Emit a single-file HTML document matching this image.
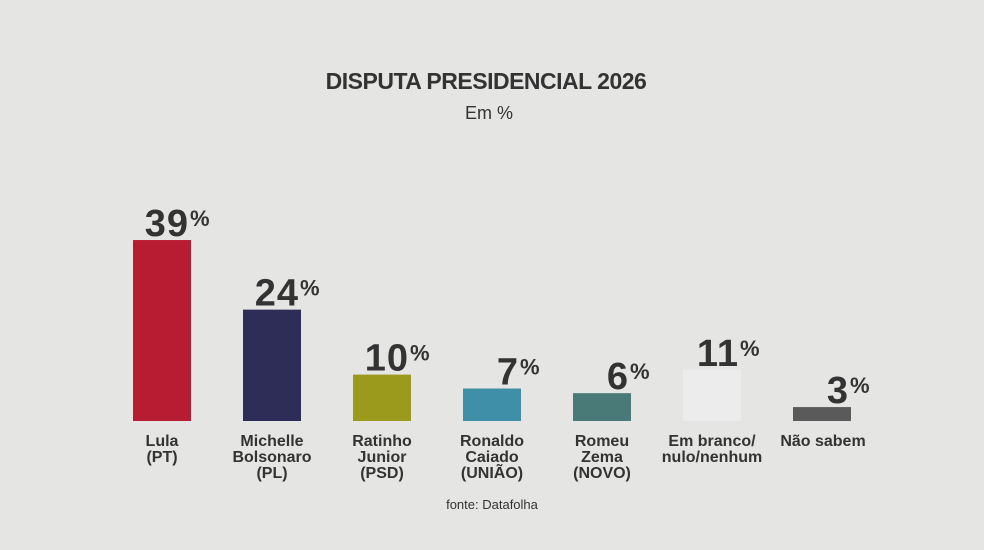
<!DOCTYPE html>
<html><head><meta charset="utf-8"><style>
body{margin:0;background:#e5e5e4;}
svg{display:block;font-family:"Liberation Sans",Arial,sans-serif;}
</style></head><body>
<svg width="984" height="550" viewBox="0 0 984 550">
<rect width="984" height="550" fill="#e5e5e4"/>
<text x="486" y="89" text-anchor="middle" font-size="23" font-weight="bold" fill="#333" letter-spacing="-0.5">DISPUTA PRESIDENCIAL 2026</text>
<text x="489" y="119" text-anchor="middle" font-size="18" fill="#333">Em %</text>
<text x="492" y="509" text-anchor="middle" font-size="13" fill="#333">fonte: Datafolha</text>
<g id="bars"></g>
</svg>
<script>
const categories=[["Lula","(PT)"],["Michelle","Bolsonaro","(PL)"],["Ratinho","Junior","(PSD)"],["Ronaldo","Caiado","(UNIÃO)"],["Romeu","Zema","(NOVO)"],["Em branco/","nulo/nenhum"],["Não sabem"]];
const values=[39,24,10,7,6,11,3];
const colors=["#b81c32","#2d2d57","#9c9a1c","#3f8fa8","#4a7a78","#ececec","#5a5a5a"];
const NS="http://www.w3.org/2000/svg";
const g=document.getElementById("bars");
const base=421, scale=4.64, x0=162, step=110, bw=58;
const xPos=i=>x0+i*step;
const yPos=v=>base-v*scale;
values.forEach((v,i)=>{
  const cx=xPos(i), y=yPos(v);
  const r=document.createElementNS(NS,"rect");
  
  
  r.setAttribute("x",cx-bw/2);r.setAttribute("y",y);r.setAttribute("width",bw);r.setAttribute("height",base-y);r.setAttribute("fill",colors[i]);
  g.appendChild(r);
  const t=document.createElementNS(NS,"text");
  
  
  t.setAttribute("x",cx+27);t.setAttribute("y",y-4);t.setAttribute("text-anchor","end");
  t.setAttribute("font-size","38");t.setAttribute("font-weight","bold");t.setAttribute("fill","#333");t.setAttribute("letter-spacing","1");
  t.textContent=v;g.appendChild(t);
  const p=document.createElementNS(NS,"text");
  
  
  p.setAttribute("x",cx+28);p.setAttribute("y",y-14);p.setAttribute("font-size","22");p.setAttribute("font-weight","bold");p.setAttribute("fill","#333");
  p.textContent="%";g.appendChild(p);
  categories[i].forEach((line,j)=>{
    const l=document.createElementNS(NS,"text");
    
    
    l.setAttribute("x",i==6?cx+1:cx);l.setAttribute("y",446+j*16);l.setAttribute("text-anchor","middle");
    l.setAttribute("font-size","16");l.setAttribute("font-weight","bold");l.setAttribute("fill","#333");
    l.textContent=line;g.appendChild(l);
  });
});
</script>
</body></html>
